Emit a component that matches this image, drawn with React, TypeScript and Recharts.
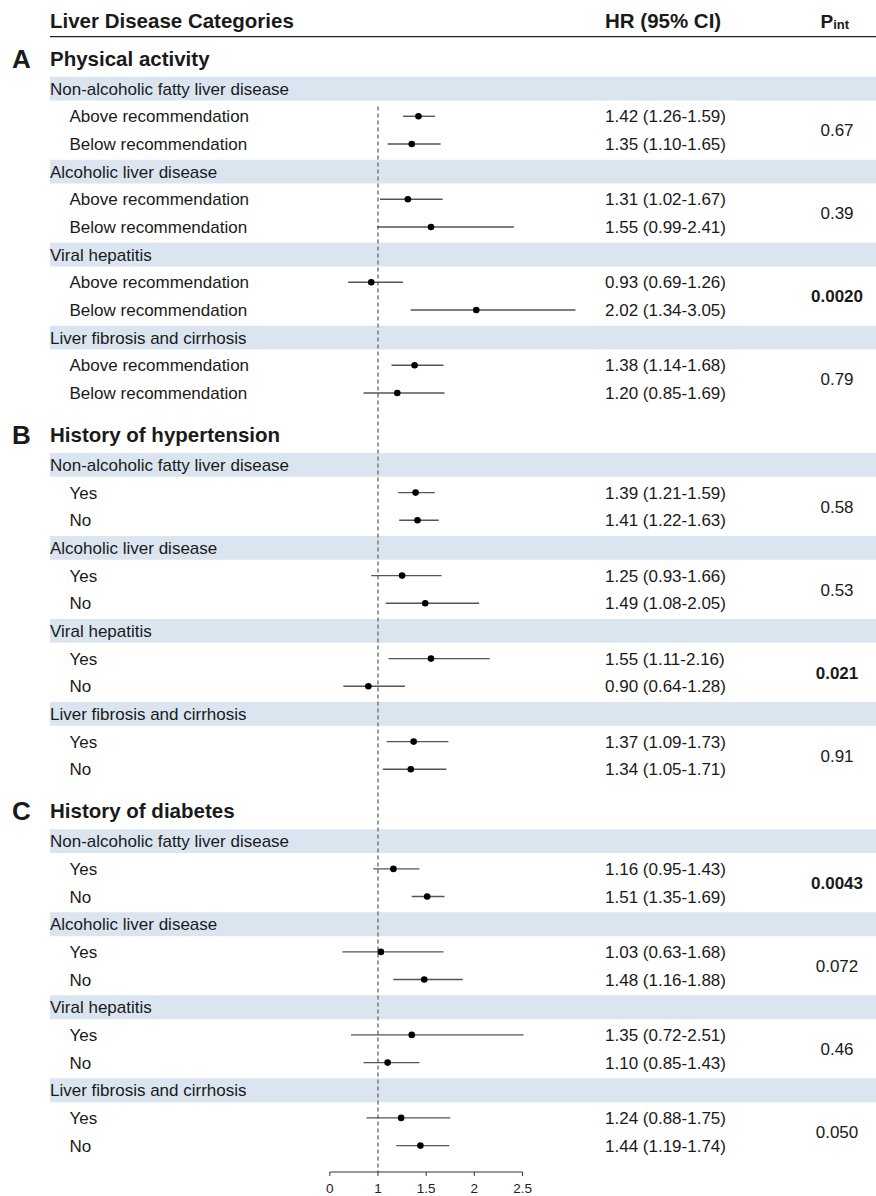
import React from "react";
import { ComposedChart, Scatter, XAxis, YAxis, ErrorBar, ReferenceLine, ReferenceArea } from "recharts";

const sectionLetters = ["A", "B", "C"];
const sectionTitles = ["Physical activity", "History of hypertension", "History of diabetes"];
const diseases = [
  "Non-alcoholic fatty liver disease",
  "Alcoholic liver disease",
  "Viral hepatitis",
  "Liver fibrosis and cirrhosis",
];
const subgroupLabels = [
  ["Above recommendation", "Below recommendation"],
  ["Yes", "No"],
  ["Yes", "No"],
];
// two subgroups per disease, in disease order
const hrValues = [
  [1.42, 1.35, 1.31, 1.55, 0.93, 2.02, 1.38, 1.2],
  [1.39, 1.41, 1.25, 1.49, 1.55, 0.9, 1.37, 1.34],
  [1.16, 1.51, 1.03, 1.48, 1.35, 1.1, 1.24, 1.44],
];
const ciLower = [
  [1.26, 1.1, 1.02, 0.99, 0.69, 1.34, 1.14, 0.85],
  [1.21, 1.22, 0.93, 1.08, 1.11, 0.64, 1.09, 1.05],
  [0.95, 1.35, 0.63, 1.16, 0.72, 0.85, 0.88, 1.19],
];
const ciUpper = [
  [1.59, 1.65, 1.67, 2.41, 1.26, 3.05, 1.68, 1.69],
  [1.59, 1.63, 1.66, 2.05, 2.16, 1.28, 1.73, 1.71],
  [1.43, 1.69, 1.68, 1.88, 2.51, 1.43, 1.75, 1.74],
];
const pInteraction = [
  ["0.67", "0.39", "0.0020", "0.79"],
  ["0.58", "0.53", "0.021", "0.91"],
  ["0.0043", "0.072", "0.46", "0.050"],
];
const pHighlighted = [
  [false, false, true, false],
  [false, false, true, false],
  [true, false, false, false],
];
const xTicks = [0.5, 1, 1.5, 2, 2.5];
const xTickLabels = ["0", "1", "1.5", "2", "2.5"];

// layout
const W = 876;
const H = 1196;
const PLOT_LEFT = 50;
const AXIS_H = 24;
const PLOT_H = H - AXIS_H;
const ROW_H = 27.67;
const FIRST_ROW_Y = 88.6;
const SECTION_SPAN = 13.6;
const X_ONE = 378;
const PX_PER_UNIT = 96.35;
const xDomain = [1 - (X_ONE - PLOT_LEFT) / PX_PER_UNIT, 1 + (W - X_ONE) / PX_PER_UNIT];
const yDomain = [-FIRST_ROW_Y / ROW_H, (PLOT_H - FIRST_ROW_Y) / ROW_H];
const toU = (px: number) => (px - FIRST_ROW_Y) / ROW_H;

const FONT = "'Liberation Sans', Arial, sans-serif";
const INK = "#1a1a1a";
const BAND = "#dae5f0";

const titleRows: any[] = [];
const diseaseRows: any[] = [];
const subRows: any[] = [];
const pRows: any[] = [];
sectionTitles.forEach((title, s) => {
  const start = s * SECTION_SPAN;
  titleRows.push({ u: start - 1.1, x: 1, letter: sectionLetters[s], title });
  diseases.forEach((name, g) => {
    const bandU = start + g * 3;
    diseaseRows.push({ u: bandU, x: 1, name });
    [0, 1].forEach((k) => {
      const i = g * 2 + k;
      const hr = hrValues[s][i];
      const lo = ciLower[s][i];
      const hi = ciUpper[s][i];
      subRows.push({
        u: bandU + 1 + k,
        x: hr,
        err: [hr - lo, hi - hr],
        label: subgroupLabels[s][k],
        text: `${hr.toFixed(2)} (${lo.toFixed(2)}-${hi.toFixed(2)})`,
      });
    });
    pRows.push({ u: bandU + 1.5, x: 1, p: pInteraction[s][g], bold: pHighlighted[s][g] });
  });
});
const headerRow = [{ u: toU(21), x: 1 }];

const base = (cy: number, fs: number) => cy + 0.36 * fs;

const HeaderShape = (props: any) => {
  const y = base(props.cy, 20.5);
  return (
    <g fontFamily={FONT} fill={INK} fontWeight="bold">
      <text x={50} y={y} fontSize={20.5}>Liver Disease Categories</text>
      <text x={605} y={y} fontSize={20.5}>HR (95% CI)</text>
      <text x={820.5} y={y} fontSize={19}>
        P<tspan fontSize={13} dy={1}>int</tspan>
      </text>
    </g>
  );
};

const TitleShape = (props: any) => {
  const { cy, payload } = props;
  return (
    <g fontFamily={FONT} fill={INK} fontWeight="bold">
      <text x={12} y={base(cy, 26)} fontSize={26}>{payload.letter}</text>
      <text x={50} y={base(cy, 20.5)} fontSize={20.5}>{payload.title}</text>
    </g>
  );
};

const DiseaseShape = (props: any) => (
  <text x={50} y={base(props.cy, 17)} fontSize={17} fontFamily={FONT} fill={INK}>
    {props.payload.name}
  </text>
);

const SubLabelShape = (props: any) => {
  const y = base(props.cy, 17);
  return (
    <g fontFamily={FONT} fill={INK} fontSize={17}>
      <text x={69.5} y={y}>{props.payload.label}</text>
      <text x={605} y={y}>{props.payload.text}</text>
    </g>
  );
};

const PShape = (props: any) => (
  <text
    x={837}
    y={base(props.cy, 17)}
    fontSize={17}
    fontFamily={FONT}
    fill={INK}
    textAnchor="middle"
    fontWeight={props.payload.bold ? "bold" : "normal"}
  >
    {props.payload.p}
  </text>
);

const DotShape = (props: any) => <circle cx={props.cx} cy={props.cy} r={3.3} fill="#000" />;

export default function App() {
  const firstSubU = subRows[0].u;
  return (
    <div style={{ position: "absolute", left: 0, top: 0, background: "#fff" }}>
      <ComposedChart width={W} height={H} margin={{ top: 0, right: 0, bottom: 0, left: PLOT_LEFT }}>
        <XAxis
          type="number"
          dataKey="x"
          domain={xDomain}
          ticks={xTicks}
          tickFormatter={(v: number) => xTickLabels[xTicks.indexOf(v)]}
          axisLine={false}
          tickLine={{ stroke: "#333" }}
          tickSize={4}
          tickMargin={7}
          height={AXIS_H}
          tick={{ fontSize: 13.5, fill: "#222", fontFamily: FONT }}
        />
        <YAxis type="number" dataKey="u" domain={yDomain} reversed hide />
        {diseaseRows.map((r) => (
          <ReferenceArea key={r.name + r.u} y1={r.u - 0.43} y2={r.u + 0.43} fill={BAND} fillOpacity={1} stroke="none" />
        ))}
        <ReferenceLine y={toU(36.7)} stroke="#222" strokeWidth={1.3} />
        <ReferenceLine
          segment={[{ x: 1, y: firstSubU - 0.35 }, { x: 1, y: yDomain[1] }]}
          stroke="#808080"
          strokeWidth={1.6}
          strokeDasharray="4 3"
          ifOverflow="visible"
        />
        <ReferenceLine
          segment={[{ x: xTicks[0], y: yDomain[1] }, { x: xTicks[xTicks.length - 1], y: yDomain[1] }]}
          stroke="#333"
          strokeWidth={1}
          ifOverflow="visible"
        />
        <Scatter data={headerRow} shape={HeaderShape} isAnimationActive={false} />
        <Scatter data={titleRows} shape={TitleShape} isAnimationActive={false} />
        <Scatter data={diseaseRows} shape={DiseaseShape} isAnimationActive={false} />
        <Scatter data={subRows} shape={SubLabelShape} isAnimationActive={false} />
        <Scatter data={pRows} shape={PShape} isAnimationActive={false} />
        <Scatter data={subRows} shape={DotShape} isAnimationActive={false}>
          <ErrorBar dataKey="err" direction="x" width={0} stroke="#555" strokeWidth={1.4} isAnimationActive={false} />
        </Scatter>
      </ComposedChart>
    </div>
  );
}
